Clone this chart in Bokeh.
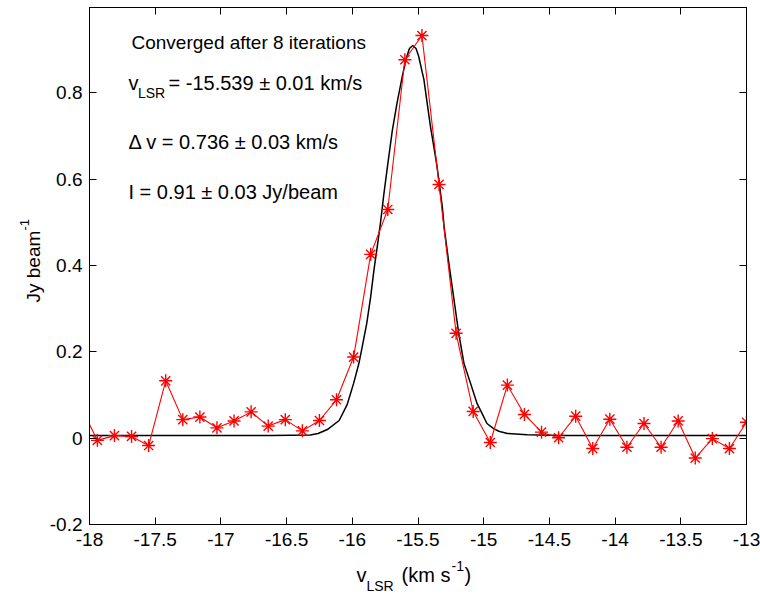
from bokeh.plotting import figure
from bokeh.models import Range1d, LinearAxis, FixedTicker, ColumnDataSource
from bokeh.core.properties import value
from bokeh.embed import file_html
from bokeh.resources import INLINE
import math

# ---------------- data ----------------
x_ticks = [-18, -17.5, -17, -16.5, -16, -15.5, -15, -14.5, -14, -13.5, -13]
x_tick_labels = ["-18", "-17.5", "-17", "-16.5", "-16", "-15.5", "-15", "-14.5", "-14", "-13.5", "-13"]
y_ticks = [-0.2, 0, 0.2, 0.4, 0.6, 0.8]
y_tick_labels = ["-0.2", "0", "0.2", "0.4", "0.6", "0.8"]

velocity = [-18.07, -17.94, -17.81, -17.68, -17.55, -17.42, -17.29, -17.16, -17.03, -16.90,
            -16.77, -16.64, -16.51, -16.38, -16.25, -16.12, -15.99, -15.86, -15.73, -15.60,
            -15.47, -15.34, -15.21, -15.08, -14.95, -14.82, -14.69, -14.56, -14.43, -14.30,
            -14.17, -14.04, -13.91, -13.78, -13.65, -13.52, -13.39, -13.26, -13.13, -13.00]
flux = [0.075, -0.005, 0.006, 0.004, -0.017, 0.133, 0.043, 0.049, 0.024, 0.040,
        0.061, 0.028, 0.043, 0.017, 0.041, 0.089, 0.188, 0.426, 0.530, 0.877,
        0.933, 0.588, 0.243, 0.062, -0.010, 0.123, 0.055, 0.014, 0.001, 0.051,
        -0.024, 0.044, -0.021, 0.034, -0.021, 0.040, -0.046, -0.001, -0.024, 0.037]

fit_velocity = [-18.00, -16.62, -16.32, -16.26, -16.19, -16.10, -16.04, -15.99, -15.95, -15.925,
                -15.89, -15.86, -15.835, -15.81, -15.785, -15.76, -15.73, -15.695, -15.66, -15.62,
                -15.59, -15.565, -15.54, -15.515, -15.495, -15.455, -15.43, -15.405, -15.38, -15.355,
                -15.335, -15.315, -15.30, -15.265, -15.24, -15.215, -15.19, -15.15, -15.10, -15.05,
                -15.025, -14.975, -14.925, -14.885, -14.82, -14.67, -14.40, -13.00]
fit_flux = [0.0065, 0.0065, 0.0075, 0.011, 0.020, 0.041, 0.077, 0.127, 0.173, 0.211,
            0.266, 0.328, 0.390, 0.444, 0.500, 0.565, 0.635, 0.714, 0.776, 0.838,
            0.880, 0.903, 0.910, 0.903, 0.885, 0.831, 0.776, 0.722, 0.676, 0.629,
            0.583, 0.536, 0.486, 0.405, 0.351, 0.297, 0.243, 0.173, 0.127, 0.080,
            0.065, 0.034, 0.022, 0.016, 0.011, 0.008, 0.0065, 0.0065]

title_text = "Converged after 8 iterations"
vlsr_text = "= -15.539 \u00b1 0.01 km/s"
dv_text = "\u0394 v = 0.736 \u00b1 0.03 km/s"
int_text = "I = 0.91 \u00b1 0.03 Jy/beam"

# ---------------- layout ----------------
W, H = 760, 596
L, R, T, B = 89, 14, 7, 72
X0, X1 = -18.0, -13.0
Y0, Y1 = -0.2, 0.998
FONT = "Liberation Sans"

p = figure(width=W, height=H, x_range=Range1d(X0, X1), y_range=Range1d(Y0, Y1),
           output_backend="svg", toolbar_location=None,
           min_border_left=L, min_border_right=R, min_border_top=T, min_border_bottom=B)
p.background_fill_color = "white"
p.border_fill_color = "white"
p.outline_line_color = "black"
p.xgrid.visible = False
p.ygrid.visible = False


def px2x(px):
    return X0 + (px - L) / (W - L - R) * (X1 - X0)


def px2y(py):
    return Y1 - (py - T) / (H - T - B) * (Y1 - Y0)


def style_axis(ax, ticks, labels, show_labels, standoff):
    ax.ticker = FixedTicker(ticks=ticks)
    ax.major_label_overrides = {t: s for t, s in zip(ticks, labels)}
    ax.major_tick_in = 7
    ax.major_tick_out = 0
    ax.minor_tick_in = 0
    ax.minor_tick_out = 0
    ax.axis_line_color = "black"
    ax.major_tick_line_color = "black"
    ax.major_label_text_font = FONT
    if show_labels:
        ax.major_label_text_color = "black"
        ax.major_label_text_font_size = "19px"
        ax.major_label_standoff = standoff
    else:
        ax.major_label_text_color = None
        ax.major_label_text_font_size = "1px"
        ax.major_label_standoff = 0


style_axis(p.xaxis[0], x_ticks, x_tick_labels, True, 8)
style_axis(p.yaxis[0], y_ticks, y_tick_labels, True, 7)
top_ax = LinearAxis()
right_ax = LinearAxis()
style_axis(top_ax, x_ticks, x_tick_labels, False, 0)
style_axis(right_ax, y_ticks, y_tick_labels, False, 0)
p.add_layout(top_ax, "above")
p.add_layout(right_ax, "right")

# ---------------- glyphs ----------------
fit_src = ColumnDataSource(dict(v=fit_velocity, f=fit_flux))
obs_src = ColumnDataSource(dict(v=velocity, f=flux))
p.line("v", "f", source=fit_src, line_color="black", line_width=1.5)
p.line("v", "f", source=obs_src, line_color="#ff0000", line_width=1.1)
p.scatter("v", "f", source=obs_src, marker="asterisk", size=13,
          line_color="#ff0000", line_width=1.4)


# ---------------- texts ----------------
def add_text(txt, px, py, size, angle=0.0):
    p.text(x=[px2x(px)], y=[px2y(py)], text=[txt], text_font=value(FONT),
           text_font_size=value(f"{size}px"), text_color="black",
           text_align="left", text_baseline="alphabetic", angle=angle,
           level="overlay")


add_text(title_text, 131, 41.5, 19)
add_text("v", 128, 82.5, 20)
add_text("LSR", 137.5, 92, 14)
add_text(vlsr_text, 168, 82.5, 20)
add_text(dv_text, 128, 141.5, 20)
add_text(int_text, 128, 191.5, 20)

# x-axis label
add_text("v", 356, 574, 20)
add_text("LSR", 366, 585, 14)
add_text("(km s", 401, 574, 20)
add_text("-1", 451, 565, 14)
add_text(")", 464, 574, 20)

# y-axis label (rotated)
add_text("Jy beam", 33, 302, 19, angle=math.pi / 2)
add_text("-1", 24, 230, 13, angle=math.pi / 2)

open("out.html", "w").write(file_html(p, INLINE))
